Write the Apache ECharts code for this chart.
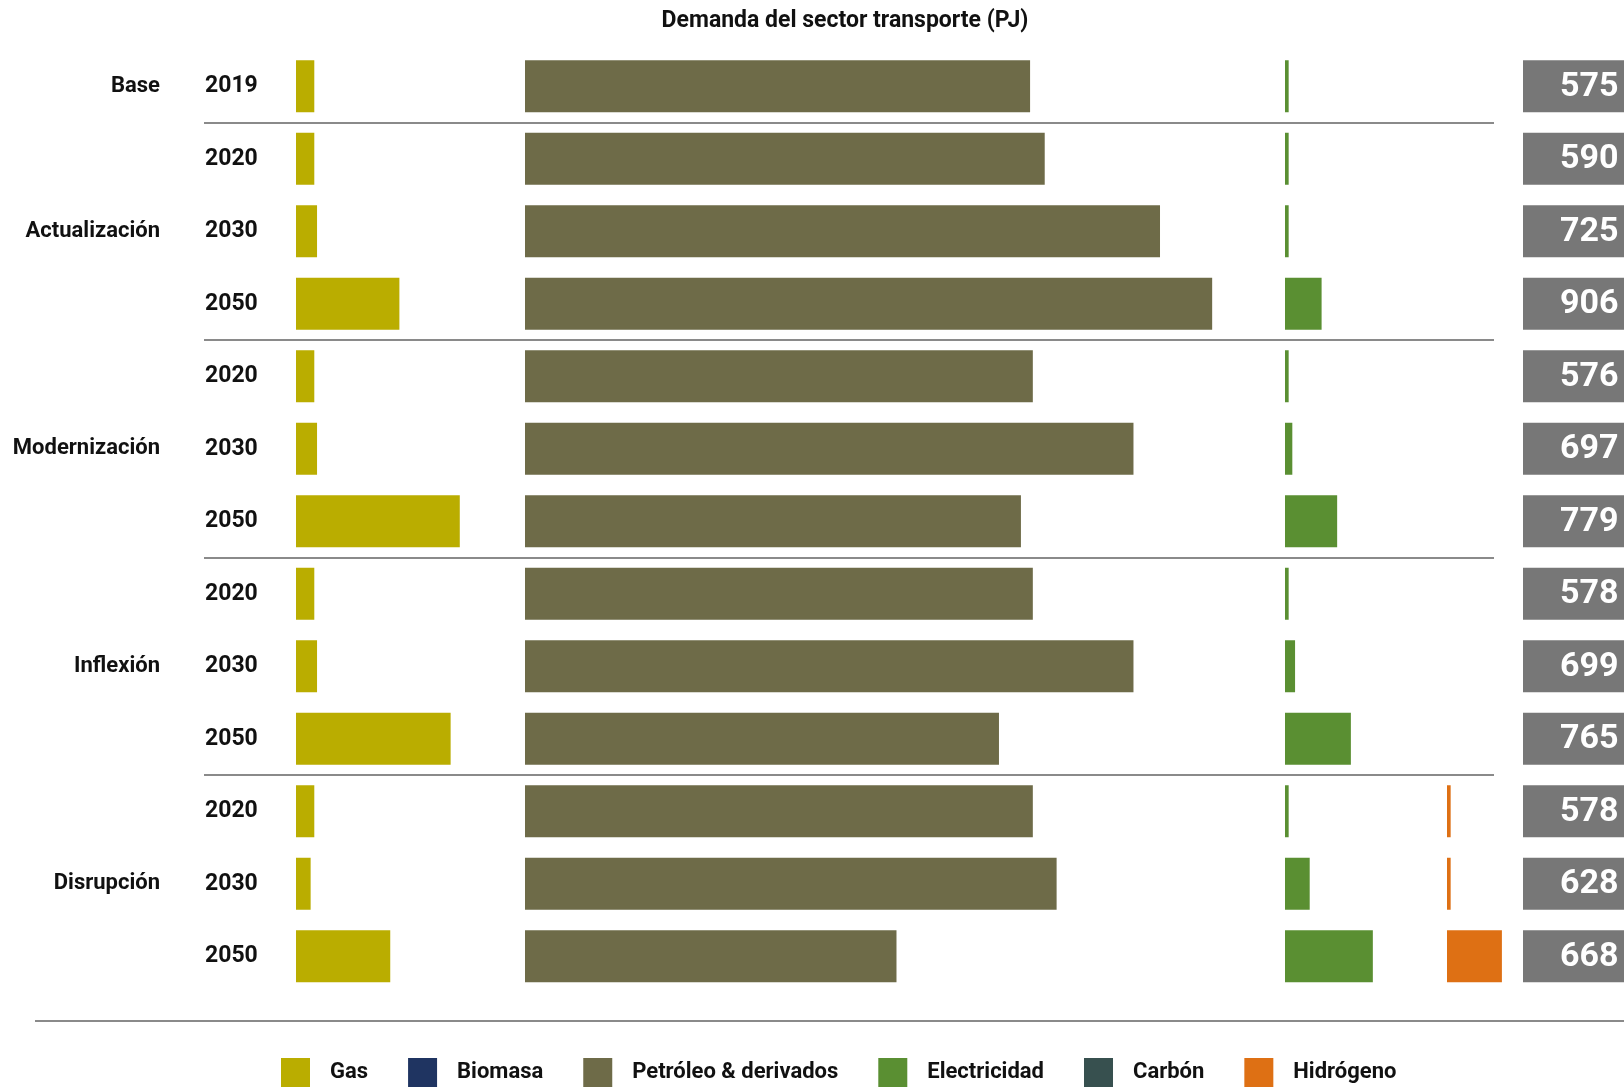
<!DOCTYPE html>
<html>
<head>
<meta charset="utf-8">
<title>Demanda del sector transporte (PJ)</title>
<script src="https://cdn.jsdelivr.net/npm/echarts@6/dist/echarts.min.js"></script>
<style>
  html, body { margin: 0; padding: 0; background: #ffffff; }
  #chart { width: 1624px; height: 1087px; }
</style>
</head>
<body>
<div id="chart"></div>
<script>
// Escenarios y años de cada fila
const rowScenario = ['Base',
  'Actualización', 'Actualización', 'Actualización',
  'Modernización', 'Modernización', 'Modernización',
  'Inflexión', 'Inflexión', 'Inflexión',
  'Disrupción', 'Disrupción', 'Disrupción'];
const rowYears = ['2019', '2020', '2030', '2050', '2020', '2030', '2050',
  '2020', '2030', '2050', '2020', '2030', '2050'];

// Demanda por energético (PJ)
const gas          = [20, 20, 23, 113, 20, 23, 179, 20, 23, 169, 20, 16, 103];
const biomasa      = [0, 0, 0, 0, 0, 0, 0, 0, 0, 0, 0, 0, 0];
const petroleo     = [552, 568, 694, 751, 555, 665, 542, 555, 665, 518, 555, 581, 406];
const electricidad = [4, 4, 4, 40, 4, 8, 57, 4, 11, 72, 4, 27, 96];
const carbon       = [0, 0, 0, 0, 0, 0, 0, 0, 0, 0, 0, 0, 0];
const hidrogeno    = ['-', '-', '-', '-', '-', '-', '-', '-', '-', '-', 4, 4, 60];

// Demanda total (PJ)
const totals = [575, 590, 725, 906, 576, 697, 779, 578, 699, 765, 578, 628, 668];

const legendNames = ['Gas', 'Biomasa', 'Petróleo & derivados', 'Electricidad', 'Carbón', 'Hidrógeno'];
const colors = {
  'Gas': '#BAAD00',
  'Biomasa': '#1F3461',
  'Petróleo & derivados': '#6E6B48',
  'Electricidad': '#5A8F32',
  'Carbón': '#37504F',
  'Hidrógeno': '#DE7014'
};

const FONT = 'Roboto, "Noto Sans", sans-serif';
const N = rowYears.length;
const rowKeys = rowScenario.map((s, i) => s + ' ' + rowYears[i]);

// Fila central de cada escenario (donde va su nombre) y límites entre escenarios
const scenarioMid = {};
(function () {
  const groups = {};
  rowScenario.forEach((s, i) => { (groups[s] = groups[s] || []).push(i); });
  Object.keys(groups).forEach(s => {
    const g = groups[s];
    scenarioMid[g[Math.floor((g.length - 1) / 2)]] = s;
  });
})();
const boundaries = [];
rowScenario.forEach((s, i) => { if (i > 0 && s !== rowScenario[i - 1]) boundaries.push(i); });

// Geometría: todas las columnas comparten la misma escala (px por PJ)
const TOP = 50, HEIGHT = 942.5;
const PX_PER_PJ = 0.915;
const columns = [
  { left: 296, max: 240 },   // Gas (+ Biomasa)
  { left: 525, max: 800 },   // Petróleo & derivados
  { left: 1285, max: 160 },  // Electricidad (+ Carbón)
  { left: 1447, max: 80 }    // Hidrógeno
];

const grid = columns.map(c => ({
  left: c.left, top: TOP, width: c.max * PX_PER_PJ, height: HEIGHT, outerBoundsMode: 'none'
}));
grid.push({ left: 204, top: TOP, width: 1290, height: HEIGHT, outerBoundsMode: 'none' }); // separadores
grid.push({ left: 1523, top: TOP, width: 101, height: HEIGHT, outerBoundsMode: 'none' }); // totales
const SEP = columns.length, TOT = columns.length + 1;

const hiddenCat = (gi) => ({
  type: 'category', gridIndex: gi, inverse: true, data: rowKeys,
  axisLine: { show: false }, axisTick: { show: false }, axisLabel: { show: false },
  splitLine: { show: false }
});

const xAxis = grid.map((g, gi) => ({
  type: 'value', gridIndex: gi, show: false,
  min: gi === TOT ? -1 : 0,
  max: gi === TOT ? 1 : (gi === SEP ? 1 : columns[gi].max)
}));

const yAxis = [
  // 0: años
  {
    type: 'category', gridIndex: 0, inverse: true, data: rowKeys, position: 'left',
    axisLine: { show: false }, axisTick: { show: false },
    axisLabel: {
      interval: 0, margin: 91, align: 'left',
      formatter: (v, i) => rowYears[i],
      color: '#111', fontFamily: FONT, fontWeight: 'bold', fontSize: 23
    }
  },
  // 1: escenarios
  {
    type: 'category', gridIndex: 0, inverse: true, data: rowKeys, position: 'left',
    axisLine: { show: false }, axisTick: { show: false },
    axisLabel: {
      interval: 0, margin: 136, align: 'right',
      formatter: (v, i) => scenarioMid[i] || '',
      color: '#111', fontFamily: FONT, fontWeight: 'bold', fontSize: 22
    }
  },
  hiddenCat(1), hiddenCat(2), hiddenCat(3),
  // eje continuo de filas para trazar los separadores entre escenarios
  { type: 'value', gridIndex: SEP, inverse: true, min: 0, max: N, show: false },
  hiddenCat(TOT)
];
const Y_SEP = 5, Y_TOT = 6;

const bar = (name, data, gi, yi, stack) => ({
  name, type: 'bar', data, xAxisIndex: gi, yAxisIndex: yi, stack,
  barWidth: 52, silent: true,
  itemStyle: { color: colors[name] }
});

const series = [
  bar('Gas', gas, 0, 0, 'c0'),
  bar('Biomasa', biomasa, 0, 0, 'c0'),
  bar('Petróleo & derivados', petroleo, 1, 2, 'c1'),
  bar('Electricidad', electricidad, 2, 3, 'c2'),
  bar('Carbón', carbon, 2, 3, 'c2'),
  bar('Hidrógeno', hidrogeno, 3, 4, 'c3'),
  {
    type: 'scatter', xAxisIndex: TOT, yAxisIndex: Y_TOT, silent: true,
    data: totals.map((t, i) => [0, i, t]),
    encode: { x: 0, y: 1 },
    symbol: 'rect', symbolSize: [101, 52],
    itemStyle: { color: '#777777', opacity: 1 },
    label: {
      show: true, position: 'inside', align: 'right', offset: [45, 1],
      formatter: p => String(p.value[2]),
      color: '#ffffff', fontFamily: FONT, fontWeight: 'bold', fontSize: 34
    }
  },
  {
    type: 'line', xAxisIndex: SEP, yAxisIndex: Y_SEP, data: [], silent: true,
    markLine: {
      silent: true, symbol: 'none', animation: false,
      label: { show: false },
      lineStyle: { color: '#8a8a8a', width: 2, type: 'solid' },
      data: boundaries.map(i => ({ yAxis: i }))
    }
  }
];

const chart = echarts.init(document.getElementById('chart'), null, { renderer: 'canvas' });
chart.setOption({
  animation: false,
  backgroundColor: '#ffffff',
  title: {
    text: 'Demanda del sector transporte (PJ)',
    left: 840, top: 5, textAlign: 'center',
    textStyle: { color: '#111', fontFamily: FONT, fontWeight: 'bold', fontSize: 23 }
  },
  legend: {
    data: legendNames,
    left: 281, top: 1058, padding: 0,
    icon: 'rect', itemWidth: 29, itemHeight: 29, itemGap: 40,
    selectedMode: false,
    textStyle: {
      color: '#111', fontFamily: FONT, fontWeight: 'bold', fontSize: 22,
      padding: [0, 0, 0, 15]
    }
  },
  grid, xAxis, yAxis, series,
  graphic: [{
    type: 'line', silent: true,
    shape: { x1: 35, y1: 1021, x2: 1624, y2: 1021 },
    style: { stroke: '#8a8a8a', lineWidth: 2 }
  }]
});
</script>
</body>
</html>
